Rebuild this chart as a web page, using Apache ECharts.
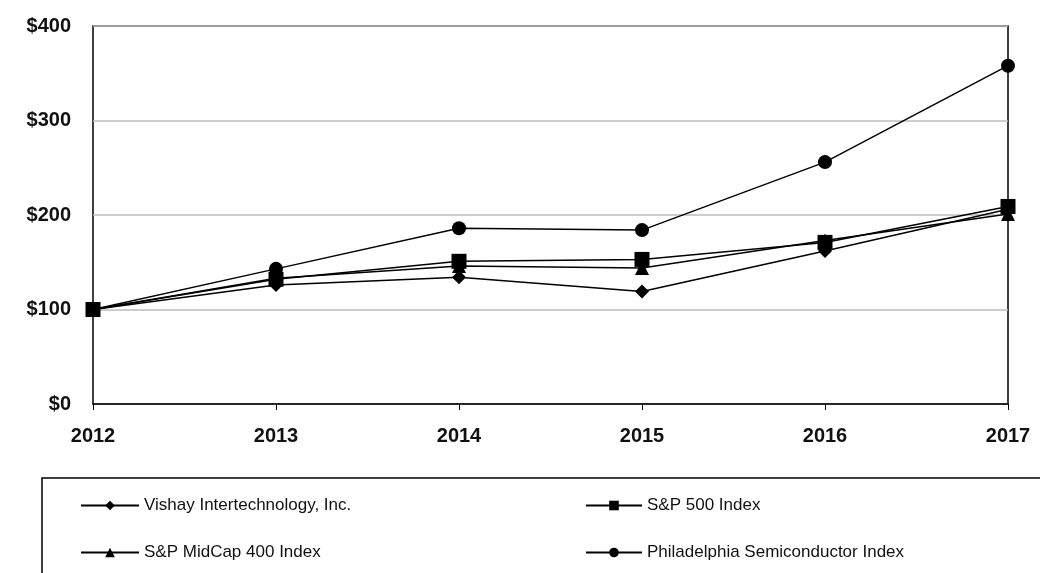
<!DOCTYPE html>
<html><head><meta charset="utf-8">
<script src="https://cdn.jsdelivr.net/npm/echarts@6/dist/echarts.min.js"></script>
<style>html,body{margin:0;padding:0;background:#fff}#c{width:1040px;height:573px}</style>
</head><body><div id="c"></div>
<script>
const years = ['2012','2013','2014','2015','2016','2017'];
const vishay = [100, 126, 134, 119, 162, 206];
const sp500 = [100, 132, 151, 153, 171, 209];
const midcap = [100, 133, 146, 144, 173, 201];
const sox = [100, 143, 186, 184, 256, 358];
const yTicks = [0, 100, 200, 300, 400];

const chart = echarts.init(document.getElementById('c'));
const font = '"Liberation Sans", Arial, sans-serif';
function s(name, data, symbol, size) {
  return {name, type:'line', data, symbol, symbolSize:size, showSymbol:true,
    lineStyle:{color:'#000', width:1.5}, itemStyle:{color:'#000'}, z: 3, animation:false};
}
const legText = {fontFamily:font, fontSize:17, color:'#111'};
chart.setOption({
  animation:false,
  grid:{left:93, right:32, top:26, bottom:169, show:true, borderColor:'#000', borderWidth:1.5, backgroundColor:'#fff'},
  xAxis:{type:'category', data:years, boundaryGap:false,
    axisLine:{lineStyle:{color:'#000', width:1.5}},
    axisTick:{show:true, length:6, lineStyle:{color:'#000'}},
    axisLabel:{color:'#111', fontFamily:font, fontWeight:'bold', fontSize:20, margin:22},
    splitLine:{show:false}},
  yAxis:{type:'value', min:yTicks[0], max:yTicks[yTicks.length-1], interval:100,
    axisLine:{show:false}, axisTick:{show:false},
    axisLabel:{color:'#111', fontFamily:font, fontWeight:'bold', fontSize:20, margin:22, formatter:v=>'$'+v},
    splitLine:{lineStyle:{color:'#bdbdbd', width:1.5}}},
  legend:[
    {orient:'vertical', left:75, top:492, itemGap:30, itemWidth:58, itemHeight:12,
      textStyle:legText, data:['Vishay Intertechnology, Inc.','S&P MidCap 400 Index'], selectedMode:false},
    {orient:'vertical', left:580, top:492, itemGap:30, itemWidth:56, itemHeight:12,
      textStyle:legText, data:['S&P 500 Index','Philadelphia Semiconductor Index'], selectedMode:false}
  ],
  graphic:[{type:'rect', shape:{x:42, y:478, width:1020, height:120}, style:{fill:'none', stroke:'#000', lineWidth:1.5}}],
  series:[
    s('Vishay Intertechnology, Inc.', vishay, 'diamond', 14),
    s('S&P 500 Index', sp500, 'rect', 15),
    s('S&P MidCap 400 Index', midcap, 'triangle', 14),
    s('Philadelphia Semiconductor Index', sox, 'circle', 14)
  ]
});
</script></body></html>
